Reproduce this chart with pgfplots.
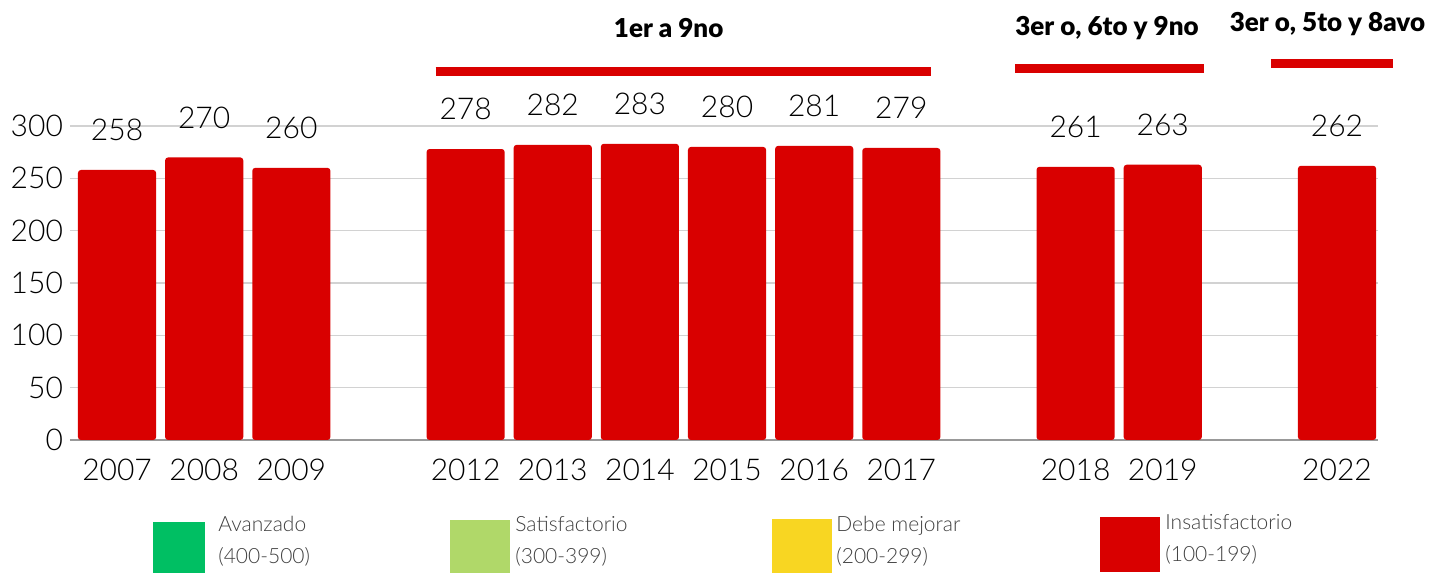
\documentclass[border=0pt]{standalone}
\usepackage{fontspec}
\setmainfont{Lato}[UprightFont=* Light, BoldFont=* Black]
\usepackage{pgfplots}
\pgfplotsset{compat=1.18}
\definecolor{barred}{HTML}{D90000}
\definecolor{avz}{HTML}{00BF63}
\definecolor{sat}{HTML}{B0D869}
\definecolor{deb}{HTML}{F8D622}
\definecolor{txt}{HTML}{404040}

\begin{document}
\begin{tikzpicture}
\useasboundingbox (0pt,0pt) rectangle (718.5pt,286.5pt);
\begin{axis}[
    at={(35pt,66.5pt)}, anchor=south west,
    scale only axis,
    width=654pt, height=157pt,
    xmin=-0.54, xmax=14.47,
    ymin=0, ymax=300,
    ytick={0,50,...,300},
    xtick={0,1,2,4,5,6,7,8,9,11,12,14},
    xticklabels={2007,2008,2009,2012,2013,2014,2015,2016,2017,2018,2019,2022},
    axis x line*=bottom, axis y line*=left,
    y axis line style={draw=none},
    x axis line style={draw=gray!80, line width=0.6pt},
    major tick length=0pt,
    ymajorgrids, grid style={draw=gray!35, line width=0.6pt},
    ticklabel style={font=\fontsize{15}{17}\selectfont, text=black},
    xticklabel style={yshift=-6pt},
    yticklabel style={xshift=0pt},
    /pgf/number format/assume math mode=true,
    ybar, bar width=0.897,
    nodes near coords,
    every node near coord/.append style={font=\fontsize{15}{17}\selectfont, anchor=south, yshift=11pt, text=black},
    clip=false,
]
\addplot[fill=barred, draw=none, rounded corners=1.5pt] coordinates {
    (0,258) (1,270) (2,260)
    (4,278) (5,282) (6,283) (7,280) (8,281) (9,279)
    (11,261) (12,263)
    (14,262)
};
% period headers
\draw[barred, line width=4.5pt] (axis cs:3.655,351.6) -- (axis cs:9.345,351.6);
\draw[barred, line width=4.5pt] (axis cs:10.31,355) -- (axis cs:12.47,355);
\draw[barred, line width=4.5pt] (axis cs:13.24,360) -- (axis cs:14.64,360);
\node[font=\fontsize{13}{15}\selectfont\bfseries] at (axis cs:6.33,393.6) {1er a 9no};
\node[font=\fontsize{13}{15}\selectfont\bfseries] at (axis cs:11.36,393.6) {3er o, 6to y 9no};
\node[font=\fontsize{13}{15}\selectfont\bfseries] at (axis cs:13.89,397) {3er o, 5to y 8avo};
\end{axis}
% legend
\begin{scope}[font=\fontsize{10.5}{16}\selectfont, text=txt]
\fill[avz] (76.5pt,0pt) rectangle (102.5pt,25.5pt);
\node[anchor=north west, align=left, inner sep=0pt] at (109pt,28.5pt) {Avanzado\\(400-500)};
\fill[sat] (225pt,0pt) rectangle (255pt,26.5pt);
\node[anchor=north west, align=left, inner sep=0pt] at (257.5pt,28.5pt) {Satisfactorio\\(300-399)};
\fill[deb] (386pt,0pt) rectangle (416pt,27pt);
\node[anchor=north west, align=left, inner sep=0pt] at (418pt,28.5pt) {Debe mejorar\\(200-299)};
\fill[barred] (550pt,0.5pt) rectangle (580pt,28pt);
\node[anchor=north west, align=left, inner sep=0pt] at (582.5pt,29.5pt) {Insatisfactorio\\(100-199)};
\end{scope}
\end{tikzpicture}
\end{document}
